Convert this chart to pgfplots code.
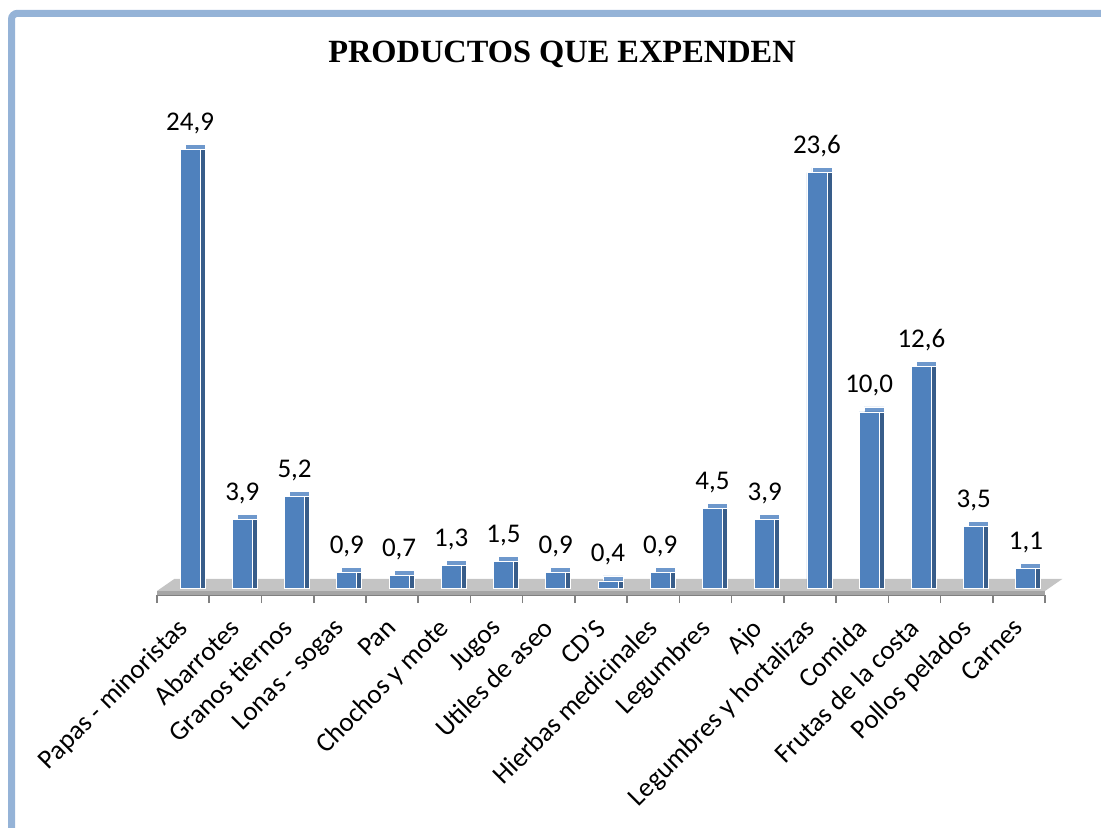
\documentclass[border=0pt]{standalone}
\usepackage{fontspec}
\setmainfont{Carlito}
\newfontfamily\titlefont{Liberation Serif}
\usepackage{pgfplots}
\pgfplotsset{compat=1.18}
\usepackage{pgfplotstable}

\definecolor{barfront}{RGB}{79,129,189}
\definecolor{barside}{RGB}{56,93,138}
\definecolor{bartop}{RGB}{110,152,204}
\definecolor{frameblue}{RGB}{149,179,215}
\definecolor{floortop}{RGB}{196,196,196}
\definecolor{floorfront}{RGB}{165,165,165}

% porcentaje por producto
\pgfplotstableread{
x y
0 24.9
1 3.9
2 5.2
3 0.9
4 0.7
5 1.3
6 1.5
7 0.9
8 0.4
9 0.9
10 4.5
11 3.9
12 23.6
13 10.0
14 12.6
15 3.5
16 1.1
}\productos

\begin{document}
\begin{tikzpicture}
\useasboundingbox (0,0) rectangle (550.5pt,413.5pt);
\draw[frameblue, line width=3.5pt, rounded corners=3pt] (5.75pt,-20pt) rectangle (580pt,406.85pt);
\node[font=\titlefont\bfseries\fontsize{16.2}{19}\selectfont, anchor=base] at (281pt,382pt) {PRODUCTOS QUE EXPENDEN};
\begin{axis}[
  at={(78.5pt,116pt)}, anchor=south west,
  scale only axis, width=444pt, height=241.1pt,
  xmin=-0.5, xmax=16.5, ymin=-0.4, ymax=27,
  axis x line*=bottom, axis y line=none,
  x axis line style={draw=gray, line width=1.2pt},
  xtick={0,...,16},
  xticklabels={Papas - minoristas, Abarrotes, Granos tiernos, Lonas - sogas, Pan,
    Chochos y mote, Jugos, Utiles de aseo, CD'S, Hierbas medicinales, Legumbres,
    Ajo, Legumbres y hortalizas, Comida, Frutas de la costa, Pollos pelados, Carnes},
  major x tick style={draw=none},
  minor xtick={-0.5,0.5,...,16.5},
  minor tick length=4pt, tick align=outside,
  minor x tick style={draw=gray, line width=0.8pt},
  xticklabel style={xshift=-3.6pt, yshift=-6.4pt, rotate=45, anchor=north east,
    inner sep=0pt, font=\fontsize{13.5}{16}\selectfont},
  ybar, bar width=10pt,
  clip=false,
  /pgf/number format/use comma,
  /pgf/number format/fixed,
  /pgf/number format/fixed zerofill,
  /pgf/number format/precision=1,
  /pgf/number format/assume math mode=true,
]
\fill[floortop] (axis cs:-0.5,-0.17) -- (axis cs:16.5,-0.17) -- (axis cs:16.83,0.51) -- (axis cs:-0.17,0.51) -- cycle;
\fill[floorfront] (axis cs:-0.5,-0.4) rectangle (axis cs:16.5,-0.17);
\addplot[fill=bartop, draw=white, line width=0.4pt, bar shift=6pt, yshift=2.5pt] table {\productos};
\addplot[fill=barside, draw=white, line width=0.4pt, bar shift=6pt] table {\productos};
\addplot[fill=barfront, draw=white, line width=0.4pt, bar shift=3.5pt,
  nodes near coords,
  every node near coord/.append style={anchor=base, yshift=9.5pt, text=black,
    font=\fontsize{13.5}{16}\selectfont}] table {\productos};
\end{axis}
\end{tikzpicture}
\end{document}
